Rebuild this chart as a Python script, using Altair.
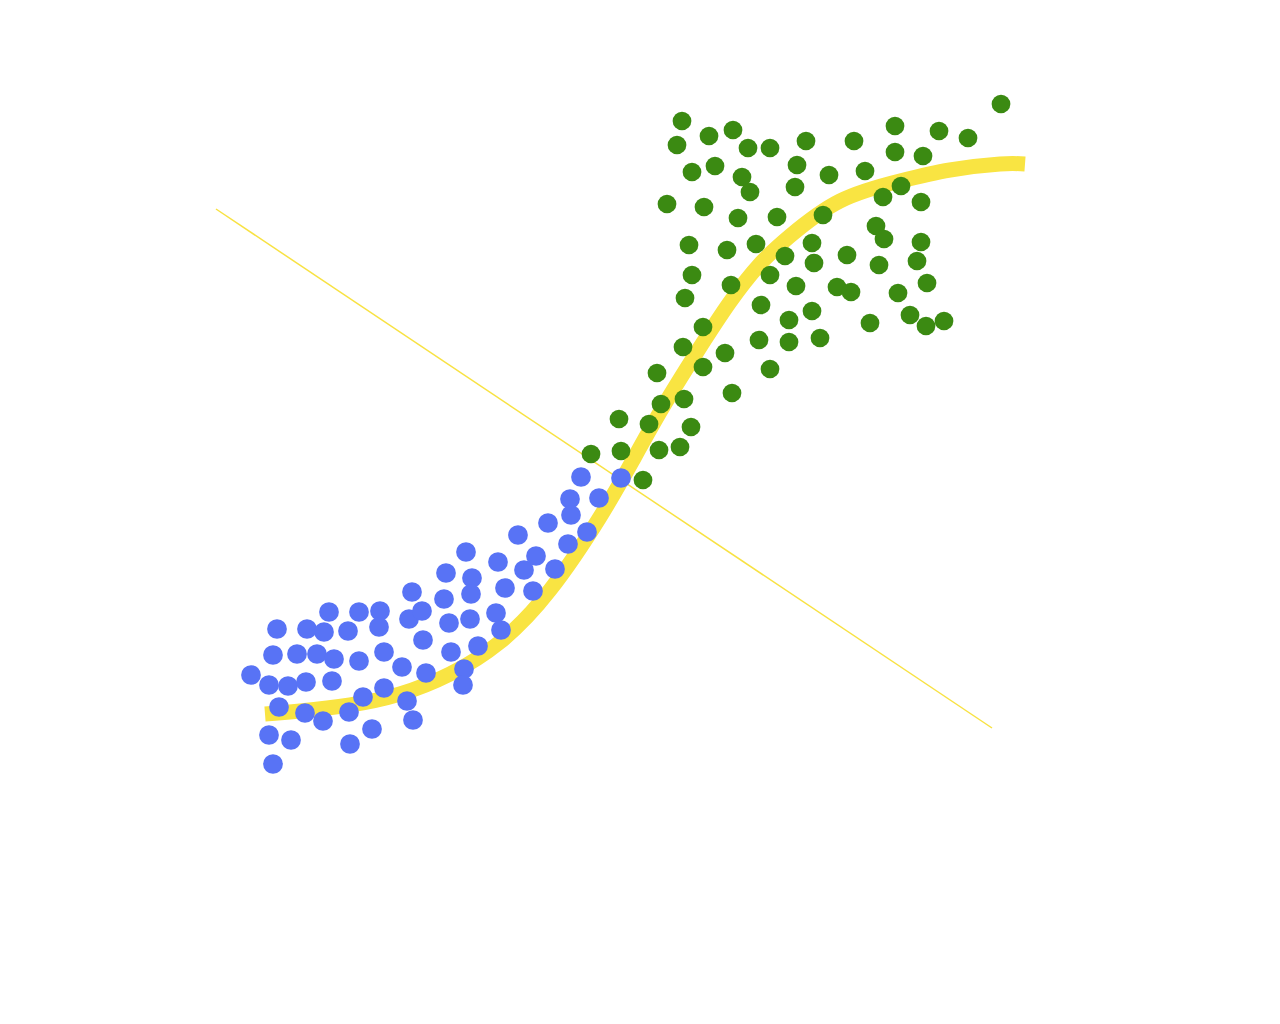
import altair as alt
import pandas as pd

# Class A (blue) points
blue_x = [251, 269, 288, 306, 273, 297, 317, 334, 277, 307, 324, 348, 329, 359, 380, 379,
          279, 305, 323, 349, 363, 332, 359, 384, 402, 384, 372, 350, 269, 291, 273, 407,
          413, 412, 409, 422, 423, 426, 446, 444, 449, 451, 466, 472, 471, 470, 464, 463,
          478, 496, 501, 498, 505, 518, 524, 536, 533, 548, 555, 568, 570, 571, 581, 587,
          599, 621]
blue_y = [675, 685, 686, 682, 655, 654, 654, 659, 629, 629, 632, 631, 612, 612, 611, 627,
          707, 713, 721, 712, 697, 681, 661, 652, 667, 688, 729, 744, 735, 740, 764, 701,
          720, 592, 619, 611, 640, 673, 573, 599, 623, 652, 552, 578, 594, 619, 669, 685,
          646, 613, 630, 562, 588, 535, 570, 556, 591, 523, 569, 544, 499, 515, 477, 532,
          498, 478]

# Class B (green) points
green_x = [682, 677, 709, 733, 748, 770, 806, 692, 715, 742, 750, 797, 795, 829, 667, 704,
           738, 777, 823, 689, 727, 756, 785, 812, 814, 692, 731, 770, 796, 837, 685, 761,
           812, 1001, 895, 939, 968, 854, 895, 923, 865, 901, 883, 921, 876, 884, 921, 847,
           879, 917, 851, 898, 927, 910, 870, 926, 944, 789, 789, 820, 703, 683, 725, 759,
           770, 657, 703, 732, 661, 684, 619, 649, 691, 591, 621, 659, 680, 643]
green_y = [121, 145, 136, 130, 148, 148, 141, 172, 166, 177, 192, 165, 187, 175, 204, 207,
           218, 217, 215, 245, 250, 244, 256, 243, 263, 275, 285, 275, 286, 287, 298, 305,
           311, 104, 126, 131, 138, 141, 152, 156, 171, 186, 197, 202, 226, 239, 242, 255,
           265, 261, 292, 293, 283, 315, 323, 326, 321, 320, 342, 338, 327, 347, 353, 340,
           369, 373, 367, 393, 404, 399, 419, 424, 427, 454, 451, 450, 447, 480]

# Fitted sigmoid curve samples
curve_x = [265, 300, 350, 400, 450, 500, 550, 600, 633, 663, 697, 730, 760, 790, 840, 900, 950, 1000, 1025]
curve_y = [714, 711, 705, 694, 674, 642, 590, 517, 460, 407, 352, 302, 264, 236, 201, 181, 170, 164, 164]

# Boundary line endpoints
bound_x = [216, 992]
bound_y = [209, 728]

pts = pd.DataFrame({
    "x": blue_x + green_x,
    "y": blue_y + green_y,
    "cls": ["A"] * len(blue_x) + ["B"] * len(green_x),
})
curve = pd.DataFrame({"x": curve_x, "y": curve_y, "o": list(range(len(curve_x)))})
bound = pd.DataFrame({"x": bound_x, "y": bound_y, "o": [0, 1]})

xs = alt.Scale(domain=[0, 1280], nice=False, zero=False)
ys = alt.Scale(domain=[1024, 0], nice=False, zero=False)

bline = alt.Chart(bound).mark_line(color="#f8e243", strokeWidth=1.5).encode(
    x=alt.X("x:Q", scale=xs, axis=None),
    y=alt.Y("y:Q", scale=ys, axis=None),
    order="o:Q",
)

cline = alt.Chart(curve).mark_line(color="#f9e442", strokeWidth=15, interpolate="natural", strokeCap="butt").encode(
    x=alt.X("x:Q", scale=xs, axis=None),
    y=alt.Y("y:Q", scale=ys, axis=None),
    order="o:Q",
)

points = alt.Chart(pts).mark_circle(opacity=1).encode(
    x=alt.X("x:Q", scale=xs, axis=None),
    y=alt.Y("y:Q", scale=ys, axis=None),
    color=alt.Color("cls:N", scale=alt.Scale(domain=["A", "B"], range=["#5873f5", "#3b8a12"]), legend=None),
    size=alt.Size("cls:N", scale=alt.Scale(domain=["A", "B"], range=[390, 350]), legend=None),
)

chart = alt.layer(bline, cline, points).properties(
    width=1280, height=1024, padding=0, autosize=alt.AutoSizeParams(type="none"),
).configure_view(stroke=None)

chart.save("out.html", embed_options={"renderer": "svg", "actions": False})
